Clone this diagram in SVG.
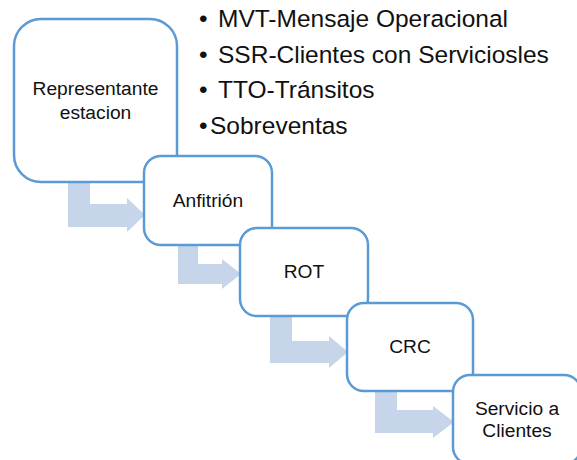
<svg xmlns="http://www.w3.org/2000/svg" width="577" height="460" viewBox="0 0 577 460">
  <style>
    .box { fill: #ffffff; stroke: #5b9bd5; stroke-width: 2.5; }
    .flow { fill: #c6d5ea; stroke: none; }
    .label { font-family: "Liberation Sans", Arial, sans-serif; font-size: 19.2px; fill: #111111; text-anchor: middle; }
    .bullets { font-family: "Liberation Sans", Arial, sans-serif; font-size: 24.5px; fill: #111111; }
  </style>
  <rect width="577" height="460" fill="#ffffff"/>

  <!-- bent flow arrows between the steps -->
  <g id="connectors">
    <polygon class="flow" points="68,182 90,182 90,204 127,204 127,198 145,215 127,232 127,227 68,227"/>
    <polygon class="flow" points="178,245 198,245 198,264 222,264 222,259 241,274 222,289 222,284 178,284"/>
    <polygon class="flow" points="270,316 292,316 292,341 329,341 329,336 348,352 329,368 329,363 270,363"/>
    <polygon class="flow" points="375,391 397,391 397,410 433,410 433,406 454,422 433,438 433,433 375,433"/>
  </g>

  <g id="node-representante">
    <rect class="box" x="14" y="19" width="163" height="163" rx="27" ry="27"/>
    <text class="label" x="95.5" y="95">Representante</text>
    <text class="label" x="95.5" y="119">estacion</text>
  </g>

  <g id="node-anfitrion">
    <rect class="box" x="144" y="156" width="128" height="89" rx="17" ry="17"/>
    <text class="label" x="208" y="207">Anfitrión</text>
  </g>

  <g id="node-rot">
    <rect class="box" x="240" y="228" width="128" height="88" rx="17" ry="17"/>
    <text class="label" x="304" y="278">ROT</text>
  </g>

  <g id="node-crc">
    <rect class="box" x="347" y="303" width="126" height="88" rx="17" ry="17"/>
    <text class="label" x="410" y="353">CRC</text>
  </g>

  <g id="node-servicio">
    <rect class="box" x="453" y="375" width="128" height="89" rx="17" ry="17"/>
    <text class="label" x="517" y="415">Servicio a</text>
    <text class="label" x="517" y="437">Clientes</text>
  </g>

  <!-- message list -->
  <g id="list">
    <text class="bullets" y="27"><tspan x="199">•</tspan><tspan x="218">MVT-Mensaje Operacional</tspan></text>
    <text class="bullets" y="62.5"><tspan x="199">•</tspan><tspan x="218">SSR-Clientes con Serviciosles</tspan></text>
    <text class="bullets" y="98"><tspan x="199">•</tspan><tspan x="218">TTO-Tránsitos</tspan></text>
    <text class="bullets" y="133.5"><tspan x="199">•</tspan><tspan x="210">Sobreventas</tspan></text>
  </g>
</svg>
